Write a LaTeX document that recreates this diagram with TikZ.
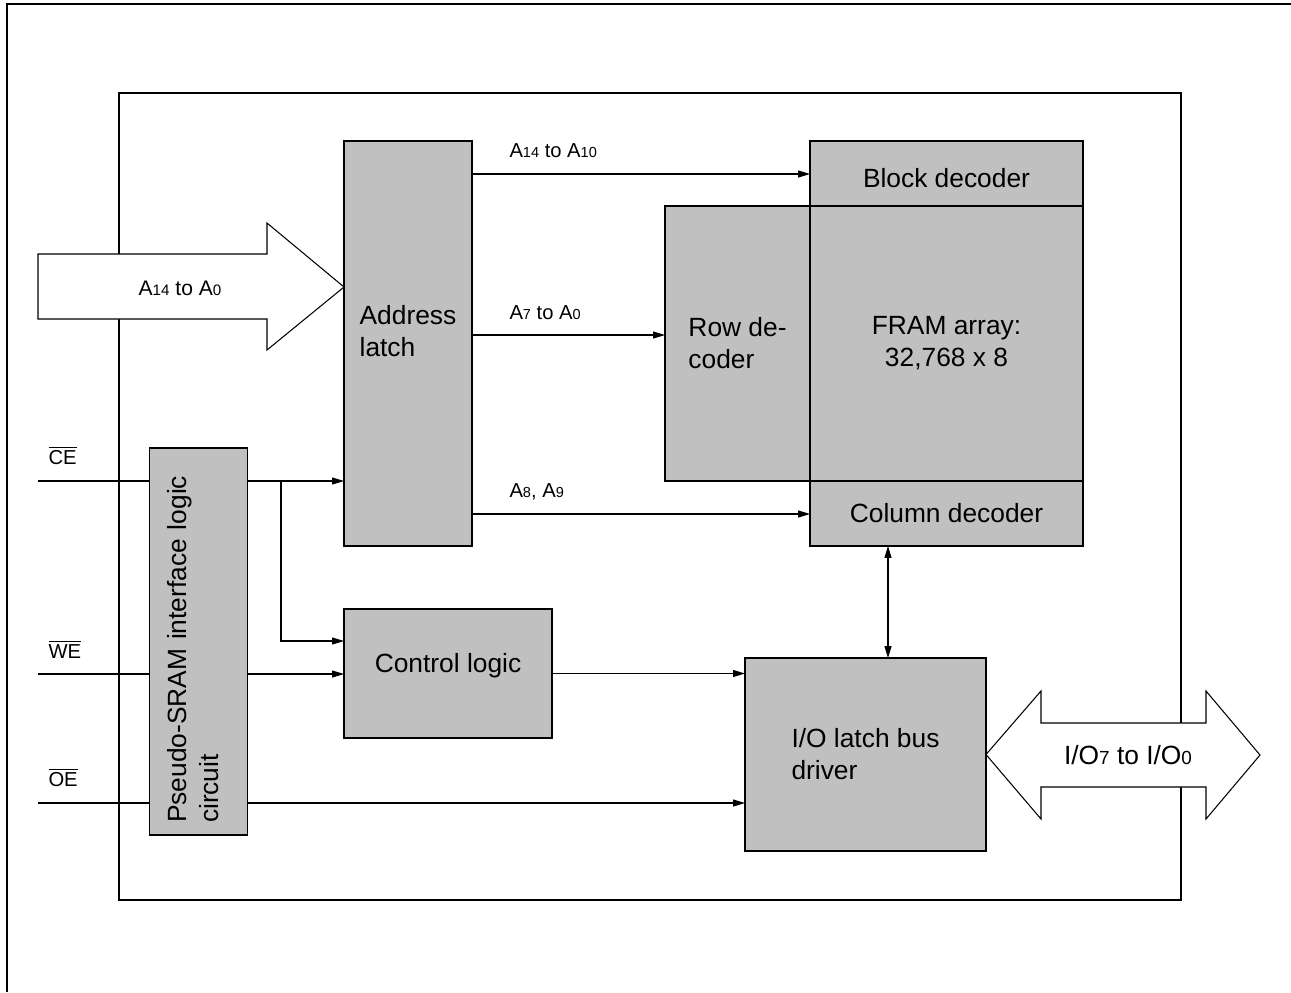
\documentclass[tikz,border=0pt]{standalone}
\usepackage{fontspec}
\setmainfont{Liberation Sans}
\usepackage{tikz}
\usetikzlibrary{arrows.meta, positioning, backgrounds, calc}
\definecolor{BlockGray}{HTML}{C0C0C0}
\newcommand{\idx}[1]{\scalebox{0.72}{#1}}
\newcommand{\nsig}[1]{$\overline{\mbox{#1}}$}
\tikzset{
  % Box styles
  blockbox/.style={rectangle, draw=black, fill=BlockGray, line width=1.1pt, inner sep=0pt, outer sep=0pt, font=\fontsize{15}{18.2}\selectfont, align=center},
  % Text styles
  siglabel/.style={font=\fontsize{11.5}{13}\selectfont, inner sep=0pt, anchor=base west},
  buslabel/.style={inner sep=0pt},
  % Arrow styles
  sigline/.style={line width=0.6pt},
  sigarrow/.style={sigline, -{Triangle[length=0.24cm, width=0.14cm]}},
  botharrow/.style={sigline, {Triangle[length=0.24cm, width=0.14cm]}-{Triangle[length=0.24cm, width=0.14cm]}},
  busarrow/.style={draw=black, fill=white, line width=0.6pt, line join=miter},
  frameline/.style={line width=1.2pt}
}

\begin{document}
\begin{tikzpicture}[x=0.02cm, y=-0.02cm]
  \useasboundingbox (0,0) rectangle (1291,992);

  % memory core
  \node[blockbox, minimum width=5.46cm, minimum height=5.5cm] (fram) at (946.5,343.5) {FRAM array:\\32,768 x 8};
  \node[blockbox, minimum width=2.9cm, minimum height=5.5cm, align=left, left=0pt of fram] (rowdec) {Row de-\\coder};
  \node[blockbox, minimum width=5.46cm, minimum height=1.3cm, text height=0.58cm, above=0pt of fram] (blockdec) {Block decoder};
  \node[blockbox, minimum width=5.46cm, minimum height=1.3cm, below=0pt of fram] (coldec) {Column decoder};

  % logic blocks
  \node[blockbox, minimum width=2.56cm, minimum height=8.1cm, align=left, text depth=0.5cm] (latch) at (408,343.5) {Address\\latch};
  \node[blockbox, rotate=90, minimum width=7.74cm, minimum height=1.96cm, align=left, text width=7.26cm, text depth=0.87cm] (psram) at (198.5,641.5) {Pseudo-SRAM interface logic\\circuit};
  \node[blockbox, minimum width=4.16cm, minimum height=2.58cm, text depth=0.43cm] (ctrl) at (448,673.5) {Control logic};
  \node[blockbox, minimum width=4.82cm, minimum height=3.86cm, align=left] (iolatch) at (865.5,754.5) {I/O latch bus\\driver};

  % pins
  \coordinate (cein) at (38,481);
  \coordinate (wein) at (38,674);
  \coordinate (oein) at (38,803);
  \coordinate (cetap) at (281,481);

  \begin{scope}[on background layer]
    \draw[frameline, line width=1.5pt] (7,992) -- (7,4) -- (1291,4);
    \draw[frameline] (119,93) rectangle (1181,900);

    \draw[sigarrow] (cein) -- node[siglabel, pos=0, xshift=0.2cm, yshift=0.34cm] (lblce) {\nsig{CE}} (cein -| latch.west);
    \draw[sigarrow] (wein) -- node[siglabel, pos=0, xshift=0.2cm, yshift=0.32cm] (lblwe) {\nsig{WE}} (wein -| ctrl.west);
    \draw[sigarrow] (oein) -- node[siglabel, pos=0, xshift=0.2cm, yshift=0.34cm] (lbloe) {\nsig{OE}} (oein -| iolatch.west);
    \draw[sigarrow] (cetap) -- (cetap |- 0,641) -- (ctrl.west |- 0,641);
    \draw[sigarrow] (ctrl.east) -- (ctrl.east -| iolatch.west);

    \draw[sigarrow] (latch.east |- 0,174) -- node[siglabel, pos=0, xshift=0.74cm, yshift=0.34cm] (lblhi) {A\idx{14} to A\idx{10}} (blockdec.west |- 0,174);
    \draw[sigarrow] (latch.east |- 0,335) -- node[siglabel, pos=0, xshift=0.74cm, yshift=0.32cm] (lblrow) {A\idx{7} to A\idx{0}} (rowdec.west |- 0,335);
    \draw[sigarrow] (latch.east |- 0,514) -- node[siglabel, pos=0, xshift=0.74cm, yshift=0.33cm] (lblcol) {A\idx{8}, A\idx{9}} (coldec.west |- 0,514);
    \draw[botharrow] (888,0 |- coldec.south) -- (888,0 |- iolatch.north);
  \end{scope}

  % bus arrows
  \draw[busarrow] (38,254) -- (267,254) -- (267,223) -- (latch.west |- 0,287) -- (267,350) -- (267,319) -- (38,319) -- cycle;
  \node[buslabel, font=\fontsize{12}{14}\selectfont] (addrbus) at (180,288) {A\idx{14} to A\idx{0}};
  \draw[busarrow] (iolatch.east) -- (1041,691) -- (1041,723) -- (1206,723) -- (1206,691) -- (1260,755) -- (1206,819) -- (1206,787) -- (1041,787) -- (1041,819) -- cycle;
  \node[buslabel, font=\fontsize{15}{18}\selectfont] (iobus) at (1128,755) {I/O\idx{7} to I/O\idx{0}};
\end{tikzpicture}
\end{document}
